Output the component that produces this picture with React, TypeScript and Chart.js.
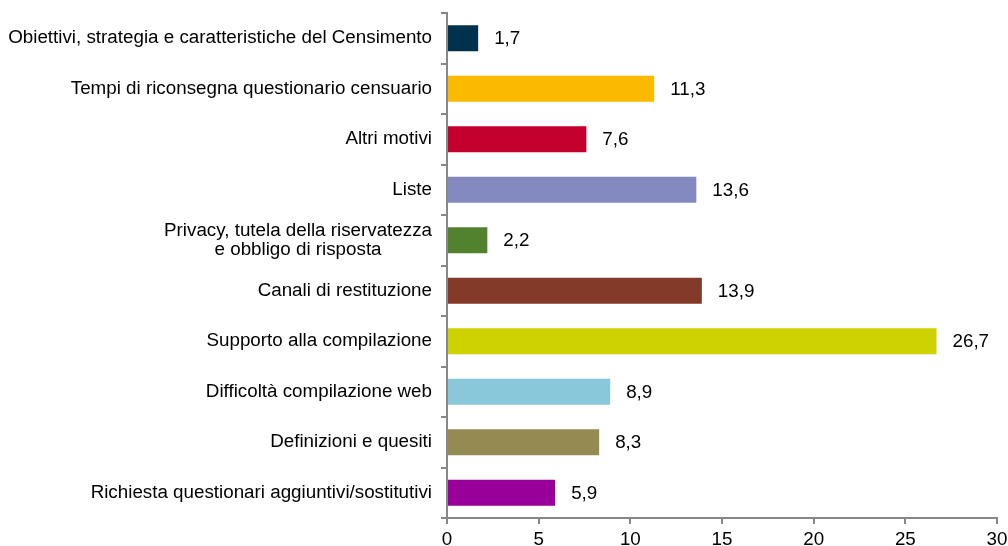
import React, { useEffect, useRef } from "react";
import { Chart, registerables } from "chart.js";

Chart.register(...registerables);

const categories: string[][] = [
  ["Obiettivi, strategia e caratteristiche del Censimento"],
  ["Tempi di riconsegna questionario censuario"],
  ["Altri motivi"],
  ["Liste"],
  ["Privacy, tutela della riservatezza", "e obbligo di risposta"],
  ["Canali di restituzione"],
  ["Supporto alla compilazione"],
  ["Difficoltà compilazione web"],
  ["Definizioni e quesiti"],
  ["Richiesta questionari aggiuntivi/sostitutivi"],
];

const values: number[] = [1.7, 11.3, 7.6, 13.6, 2.2, 13.9, 26.7, 8.9, 8.3, 5.9];

const barColors: string[] = [
  "#00324E",
  "#FBB900",
  "#C4002F",
  "#8489C0",
  "#53822E",
  "#833A28",
  "#CDD200",
  "#89C8DA",
  "#948A52",
  "#990099",
];

const xTicks: number[] = [0, 5, 10, 15, 20, 25, 30];

const FONT = "Liberation Sans, Arial, sans-serif";
const FONT_SIZE = 18.8;
const AXIS_COLOR = "#878787";

const fmt = (v: number) => v.toFixed(1).replace(".", ",");

export default function App() {
  const ref = useRef<HTMLCanvasElement | null>(null);

  useEffect(() => {
    if (!ref.current) return;

    const labelPlugin = {
      id: "customLabels",
      afterDatasetsDraw(chart: any) {
        const ctx = chart.ctx;
        const yScale = chart.scales.y;
        ctx.save();
        ctx.font = `${FONT_SIZE}px ${FONT}`;
        ctx.fillStyle = "#000000";
        categories.forEach((lines, i) => {
          const yc = yScale.getPixelForValue(i);
          const lh = FONT_SIZE;
          const widths = lines.map((l) => ctx.measureText(l).width);
          const maxW = Math.max(...widths);
          const right = chart.chartArea.left - 15;
          const center = right - maxW / 2;
          ctx.textAlign = "center";
          ctx.textBaseline = "middle";
          lines.forEach((l, k) => {
            const y = yc + (k - (lines.length - 1) / 2) * lh;
            ctx.fillText(l, center, y);
          });
        });
        const meta = chart.getDatasetMeta(0);
        ctx.textAlign = "left";
        ctx.textBaseline = "middle";
        meta.data.forEach((bar: any, i: number) => {
          ctx.fillText(fmt(values[i]), bar.x + 16, bar.y + 1);
        });
        ctx.restore();
      },
    };

    const chart = new Chart(ref.current, {
      type: "bar",
      data: {
        labels: categories.map((c) => c.join(" ")),
        datasets: [
          {
            data: values,
            backgroundColor: barColors,
            borderWidth: 0,
            categoryPercentage: 1,
            barPercentage: 0.515,
          },
        ],
      },
      options: {
        indexAxis: "y",
        animation: false,
        responsive: false,
        maintainAspectRatio: false,
        layout: { padding: { left: 0, right: 11, top: 13, bottom: 0 } },
        plugins: {
          legend: { display: false },
          tooltip: { enabled: false },
        },
        scales: {
          x: {
            min: 0,
            max: 30,
            afterBuildTicks: (scale: any) => {
              scale.ticks = xTicks.map((v) => ({ value: v }));
            },
            afterFit: (scale: any) => {
              scale.height = 28;
              scale.paddingLeft = 0;
              scale.paddingRight = 0;
            },
            grid: {
              display: true,
              drawOnChartArea: false,
              drawTicks: true,
              tickLength: 6,
              color: AXIS_COLOR,
              lineWidth: 2,
            },
            border: { display: true, color: AXIS_COLOR, width: 2 },
            ticks: {
              color: "#000000",
              font: { family: FONT, size: FONT_SIZE },
              padding: 5,
              maxRotation: 0,
              autoSkip: false,
            },
          },
          y: {
            afterFit: (scale: any) => {
              scale.width = 447;
            },
            grid: {
              display: true,
              offset: true,
              drawOnChartArea: false,
              drawTicks: true,
              tickLength: 6,
              color: AXIS_COLOR,
              lineWidth: 2,
            },
            border: { display: true, color: AXIS_COLOR, width: 2 },
            ticks: { display: false },
          },
        },
      },
      plugins: [labelPlugin],
    } as any);

    return () => chart.destroy();
  }, []);

  return (
    <div
      style={{
        position: "fixed",
        left: 0,
        top: 0,
        width: 1008,
        height: 546,
        background: "#ffffff",
      }}
    >
      <canvas ref={ref} width={1008} height={546} style={{ display: "block" }} />
    </div>
  );
}
